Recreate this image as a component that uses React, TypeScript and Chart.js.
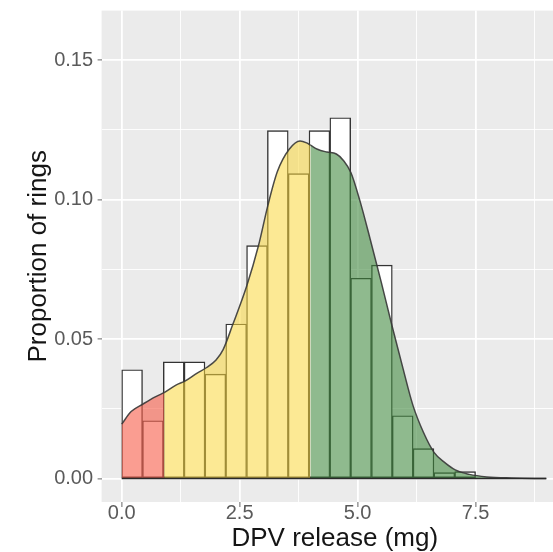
import React, { useEffect, useRef } from "react";
import { Chart, registerables } from "chart.js";

Chart.register(...registerables);

// ---- data ----
const BIN_START = 0;
const BIN_WIDTH = 0.4412;
const binProportions = [
  0.039, 0.0207, 0.0418, 0.0418, 0.0374, 0.0554, 0.0835, 0.1247, 0.1093,
  0.1247, 0.1293, 0.0718, 0.0765, 0.0225, 0.0107, 0.0021, 0.0025,
];

const densityX = [
  0.0, 0.2, 0.45, 0.7, 0.9, 1.15, 1.35, 1.6, 1.8, 2.0, 2.15, 2.35, 2.65, 2.9,
  3.1, 3.3, 3.55, 3.78, 3.92, 4.0, 4.15, 4.35, 4.55, 4.7, 4.86, 5.05, 5.27,
  5.5, 5.72, 5.95, 6.17, 6.4, 6.62, 6.85, 7.07, 7.37, 7.74, 8.26, 9.0,
];
const densityY = [
  0.0195, 0.024, 0.0267, 0.0292, 0.0308, 0.0335, 0.035, 0.0378, 0.0398,
  0.0425, 0.0462, 0.055, 0.069, 0.0835, 0.098, 0.11, 0.118, 0.121, 0.1203,
  0.1195, 0.118, 0.117, 0.1163, 0.114, 0.1096, 0.0995, 0.0856, 0.0705,
  0.0554, 0.0403, 0.0264, 0.0164, 0.0094, 0.0057, 0.0031, 0.0015, 0.0006,
  0.0002, 0.0,
];

const RED_MAX = 0.9;
const YELLOW_MAX = 4.0;

const xMajorTicks = [0, 2.5, 5, 7.5];
const xMinorTicks = [1.25, 3.75, 6.25, 8.75];
const yMajorTicks = [0, 0.05, 0.1, 0.15];
const yMinorTicks = [0.025, 0.075, 0.125];

const X_MIN = -0.426;
const X_MAX = 9.46;
const Y_MIN = -0.0084;
const Y_MAX = 0.1677;

const xTitle = "DPV release (mg)";
const yTitle = "Proportion of rings";

// ---- helpers ----
const densityPts = densityX.map((x, i) => ({ x, y: densityY[i] }));
const segment = (lo: number, hi: number) =>
  densityPts.filter((p) => p.x >= lo - 1e-9 && p.x <= hi + 1e-9);

const histPts = binProportions.map((v, i) => ({
  x: BIN_START + BIN_WIDTH * (i + 0.5),
  y: v,
}));
const baselinePts = [
  { x: densityX[0], y: 0 },
  { x: densityX[densityX.length - 1], y: 0 },
];

const isMajor = (v: number, majors: number[]) =>
  majors.some((m) => Math.abs(m - v) < 1e-9);

const panelBg = {
  id: "panelBg",
  beforeDraw(chart: any) {
    const { ctx, chartArea } = chart;
    ctx.save();
    ctx.fillStyle = "#EBEBEB";
    ctx.fillRect(
      chartArea.left,
      chartArea.top,
      chartArea.right - chartArea.left,
      chartArea.bottom - chartArea.top
    );
    ctx.restore();
  },
};

const FONT = "'Liberation Sans', Arial, Helvetica, sans-serif";

export default function App() {
  const ref = useRef<HTMLCanvasElement | null>(null);

  useEffect(() => {
    if (!ref.current) return;
    const segStyle = (color: string) => ({
      type: "line" as const,
      backgroundColor: color,
      borderColor: "rgba(55,55,55,0.9)",
      borderWidth: 1.5,
      pointRadius: 0,
      fill: "origin",
      cubicInterpolationMode: "monotone" as const,
      order: 1,
    });
    const chart = new Chart(ref.current, {
      type: "bar",
      data: {
        datasets: [
          {
            type: "bar",
            data: histPts,
            backgroundColor: "#FFFFFF",
            borderColor: "#333333",
            borderWidth: 1.4,
            borderSkipped: false,
            barPercentage: 1,
            categoryPercentage: 1,
            order: 3,
          } as any,
          { ...segStyle("rgba(247,92,72,0.6)"), data: segment(0, RED_MAX) } as any,
          {
            ...segStyle("rgba(250,215,60,0.55)"),
            data: segment(RED_MAX, YELLOW_MAX),
          } as any,
          {
            ...segStyle("rgba(62,136,60,0.58)"),
            data: segment(YELLOW_MAX, Infinity),
          } as any,
          {
            type: "line",
            data: baselinePts,
            borderColor: "#2a2a2a",
            borderWidth: 1.4,
            pointRadius: 0,
            fill: false,
            order: 0,
          } as any,
        ],
      },
      options: {
        responsive: false,
        animation: false,
        devicePixelRatio: 1,
        layout: { padding: { top: 10.6, left: 0, right: 0, bottom: 0 } },
        plugins: {
          legend: { display: false },
          tooltip: { enabled: false },
        },
        scales: {
          x: {
            type: "linear",
            min: X_MIN,
            max: X_MAX,
            offset: false,
            afterBuildTicks: (scale: any) => {
              scale.ticks = [...xMajorTicks, ...xMinorTicks]
                .sort((a, b) => a - b)
                .map((v) => ({ value: v }));
            },
            afterFit: (scale: any) => {
              scale.height = 50;
              scale.paddingLeft = 0;
              scale.paddingRight = 0;
            },
            grid: {
              offset: false,
              color: "#FFFFFF",
              lineWidth: (c: any) =>
                c.tick && isMajor(c.tick.value, xMajorTicks) ? 1.8 : 0.9,
              drawTicks: true,
              tickLength: 5,
              tickWidth: 1,
              tickColor: (c: any) =>
                c.tick && isMajor(c.tick.value, xMajorTicks)
                  ? "#666666"
                  : "rgba(0,0,0,0)",
            },
            border: { display: false },
            ticks: {
              autoSkip: false,
              maxRotation: 0,
              padding: -6,
              color: "#5a5a5a",
              font: { family: FONT, size: 20 },
              callback: (v: any) =>
                isMajor(Number(v), xMajorTicks) ? Number(v).toFixed(1) : "",
            },
            title: {
              display: true,
              text: xTitle,
              color: "#151515",
              font: { family: FONT, size: 26 },
              padding: { top: 0, bottom: -2 },
            },
          },
          y: {
            type: "linear",
            min: Y_MIN,
            max: Y_MAX,
            afterBuildTicks: (scale: any) => {
              scale.ticks = [...yMajorTicks, ...yMinorTicks]
                .sort((a, b) => a - b)
                .map((v) => ({ value: v }));
            },
            afterFit: (scale: any) => {
              scale.width = 101.6;
              scale.paddingTop = 0;
              scale.paddingBottom = 0;
            },
            grid: {
              color: "#FFFFFF",
              lineWidth: (c: any) =>
                c.tick && isMajor(c.tick.value, yMajorTicks) ? 1.8 : 0.9,
              drawTicks: true,
              tickLength: 4,
              tickWidth: 1,
              tickColor: (c: any) =>
                c.tick && isMajor(c.tick.value, yMajorTicks)
                  ? "#666666"
                  : "rgba(0,0,0,0)",
            },
            border: { display: false },
            ticks: {
              autoSkip: false,
              padding: 4.5,
              color: "#5a5a5a",
              font: { family: FONT, size: 20 },
              callback: (v: any) =>
                isMajor(Number(v), yMajorTicks) ? Number(v).toFixed(2) : "",
            },
            title: {
              display: true,
              text: yTitle,
              color: "#151515",
              font: { family: FONT, size: 26 },
              padding: { top: 23.5, bottom: 0 },
            },
          },
        },
      },
      plugins: [panelBg],
    } as any);
    return () => chart.destroy();
  }, []);

  return (
    <div
      style={{
        position: "fixed",
        left: 0,
        top: 0,
        width: 553,
        height: 552,
        overflow: "hidden",
        background: "#FFFFFF",
      }}
    >
      <canvas
        ref={ref}
        width={568}
        height={552}
        style={{ width: 568, height: 552, display: "block" }}
      />
    </div>
  );
}
